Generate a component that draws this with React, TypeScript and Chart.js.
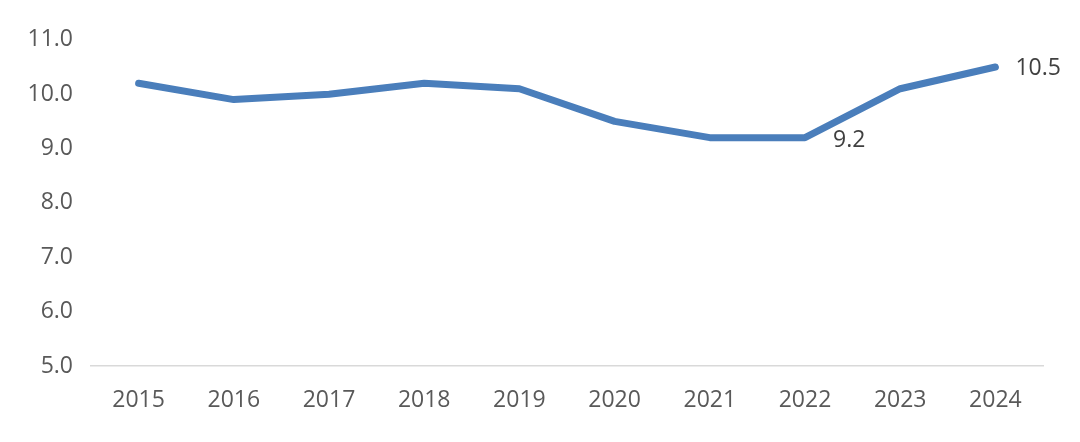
import React, { useEffect, useRef } from "react";
import { Chart, registerables } from "chart.js";

Chart.register(...registerables);

const years = ["2015", "2016", "2017", "2018", "2019", "2020", "2021", "2022", "2023", "2024"];
const values = [10.2, 9.9, 10.0, 10.2, 10.1, 9.5, 9.2, 9.2, 10.1, 10.5];
const labelShown = [false, false, false, false, false, false, false, true, false, true];
const yTicks = [5, 6, 7, 8, 9, 10, 11];

const FONT = "'Open Sans', sans-serif";
const TEXT = "#595959";

const labelPlugin = {
  id: "pointLabels",
  afterDatasetsDraw(chart: any) {
    const { ctx } = chart;
    const meta = chart.getDatasetMeta(0);
    ctx.save();
    ctx.font = `23px ${FONT}`;
    ctx.fillStyle = "#404040";
    ctx.textBaseline = "middle";
    ctx.textAlign = "left";
    meta.data.forEach((pt: any, i: number) => {
      if (!labelShown[i]) return;
      const v = values[i];
      const isLast = i === values.length - 1;
      const dx = isLast ? 20 : 28;
      const dy = isLast ? 1 : 3;
      ctx.fillText(v.toFixed(1), pt.x + dx, pt.y + dy);
    });
    ctx.restore();
  },
};

export default function App() {
  const ref = useRef<HTMLCanvasElement>(null);
  useEffect(() => {
    document.body.style.margin = "0";
    const chart = new Chart(ref.current!, {
      type: "line",
      data: {
        labels: years,
        datasets: [
          {
            data: values,
            borderColor: "#4a7ebb",
            borderWidth: 7,
            borderCapStyle: "round",
            borderJoinStyle: "round",
            pointRadius: 0,
            tension: 0,
            fill: false,
          },
        ],
      },
      options: {
        animation: false,
        responsive: false,
        maintainAspectRatio: false,
        layout: { padding: { left: 0, right: 37, top: 24, bottom: 0 } },
        plugins: { legend: { display: false }, tooltip: { enabled: false } },
        scales: {
          x: {
            offset: true,
            grid: { display: false, drawTicks: false },
            border: { display: true, color: "#d9d9d9", width: 1.5 },
            ticks: { color: TEXT, font: { family: FONT, size: 23 }, padding: 21, maxRotation: 0 },
            afterFit(scale: any) {
              scale.height = 76;
            },
          },
          y: {
            min: 5,
            max: 11,
            grid: { display: false, drawTicks: false },
            border: { display: false },
            afterBuildTicks(scale: any) {
              scale.ticks = yTicks.map((v) => ({ value: v }));
            },
            ticks: {
              color: TEXT,
              font: { family: FONT, size: 23 },
              padding: 18,
              callback: (v: any) => Number(v).toFixed(1),
            },
            afterFit(scale: any) {
              scale.width = 91;
            },
          },
        },
      },
      plugins: [labelPlugin],
    });
    return () => chart.destroy();
  }, []);
  return (
    <div style={{ paddingTop: 8 }}>
      <canvas ref={ref} width={1080} height={434} style={{ display: "block" }} />
    </div>
  );
}
